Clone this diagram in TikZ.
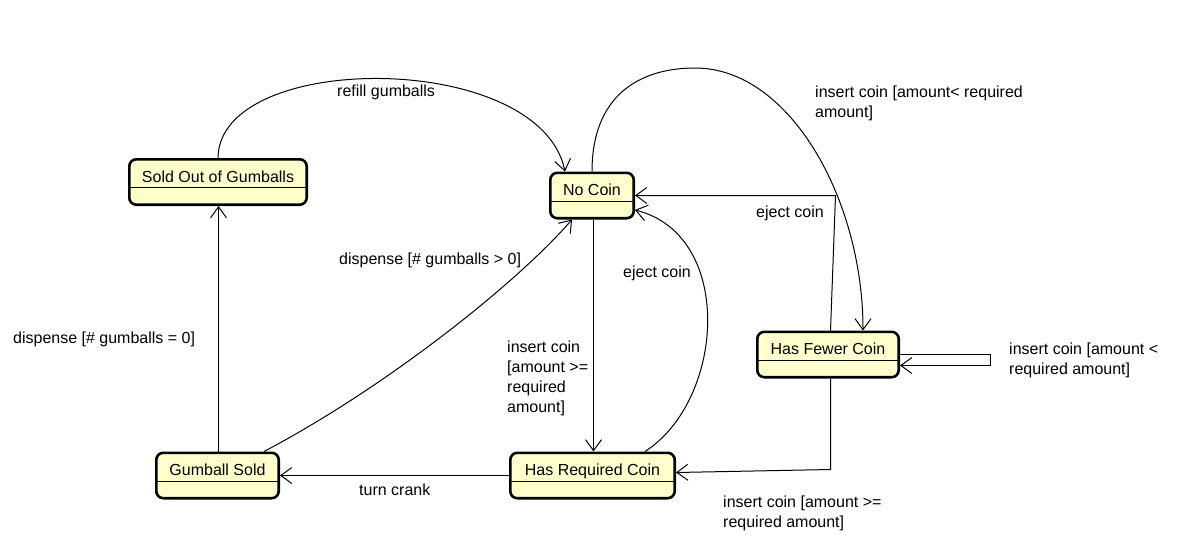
\documentclass[tikz,border=0pt]{standalone}
\usepackage{fontspec}
\setmainfont{Liberation Sans}
\usetikzlibrary{arrows.meta}
\definecolor{statefill}{HTML}{FFFFCC}
\begin{document}
\begin{tikzpicture}[x=1pt,y=-1pt,
  state/.style={draw=black, line width=2.6pt, rounded corners=7pt, fill=statefill,
    inner sep=0pt, text height=22.7pt, text depth=22.7pt,
    font=\fontsize{16}{20}\selectfont},
  lbl/.style={anchor=base west, inner sep=0pt, font=\fontsize{16}{20}\selectfont},
  conn/.style={draw=black, line width=1pt,
    -{Straight Barb[length=11pt,width=16pt,line width=1pt]}},
  divider/.style={line width=1.4pt}]
\useasboundingbox (0,0) rectangle (1188,552);

% states
\node[state, minimum width=177.4pt] (sold) at (218,182) {Sold Out of Gumballs};
\node[state, minimum width=83.4pt] (nocoin) at (592,195.5) {No Coin};
\node[state, minimum width=141.4pt] (fewer) at (828,354.5) {Has Fewer Coin};
\node[state, minimum width=164.4pt] (req) at (592.5,475.5) {Has Required Coin};
\node[state, minimum width=122.4pt] (gsold) at (217.5,475.5) {Gumball Sold};
\foreach \n in {sold,nocoin,fewer,req,gsold}
  \draw[divider] ([yshift=-29.7pt]\n.north west) -- ([yshift=-29.7pt]\n.north east);

% connectors
\draw[conn] (sold.north) .. controls (219,50) and (540,50) .. ([xshift=-27pt]nocoin.north);
\draw[conn] ([xshift=1pt]gsold.north) -- ([xshift=0.5pt]sold.south);
\draw[conn] ([xshift=46.5pt]gsold.north) .. controls (390,385) and (520,280) .. ([xshift=-20pt]nocoin.south);
\draw[conn] ([xshift=1.5pt]nocoin.south) -- ([xshift=1pt]req.north);
\draw[conn] ([xshift=52.5pt]req.north) .. controls (725,400) and (735,235) .. ([yshift=-14.5pt]nocoin.east);

\coordinate (ejc) at (835.5,195.5);
\draw[conn] ([xshift=2.5pt]fewer.north) -- (ejc) -- (nocoin.east);

\coordinate (arctop) at (695,68);
\draw[conn] (nocoin.north) .. controls (592,95) and (640,68) .. (arctop)
  .. controls (790,68) and (863,200) .. ([xshift=35pt]fewer.north);

\coordinate (la) at (990.5,354.5);
\coordinate (lb) at (990.5,365.5);
\draw[conn] (fewer.east) -- (la) -- (lb) -- ([yshift=-11pt]fewer.east);

\coordinate (fb) at (830.5,469.5);
\draw[conn] ([xshift=2.5pt]fewer.south) -- (fb) -- ([yshift=3pt]req.east);

\draw[conn] (req.west) -- (gsold.east);

% labels
\node[lbl] (l1) at (337,96) {refill gumballs};
\node[lbl] (l2) at (13,343) {dispense [\# gumballs = 0]};
\node[lbl] (l3) at (339,264) {dispense [\# gumballs > 0]};
\node[lbl] (l4) at (507,352) {\vtop{\hbox{insert coin}\hbox{[amount >=}\hbox{required}\hbox{amount]}}};
\node[lbl] (l5) at (623,277) {eject coin};
\node[lbl] (l6) at (756,217) {eject coin};
\node[lbl] (l7) at (815,97) {\vtop{\hbox{insert coin [amount< required}\hbox{amount]}}};
\node[lbl] (l8) at (1009,354) {\vtop{\hbox{insert coin [amount <}\hbox{required amount]}}};
\node[lbl] (l9) at (723,507) {\vtop{\hbox{insert coin [amount >=}\hbox{required amount]}}};
\node[lbl] (l10) at (359,495) {turn crank};
\end{tikzpicture}
\end{document}
